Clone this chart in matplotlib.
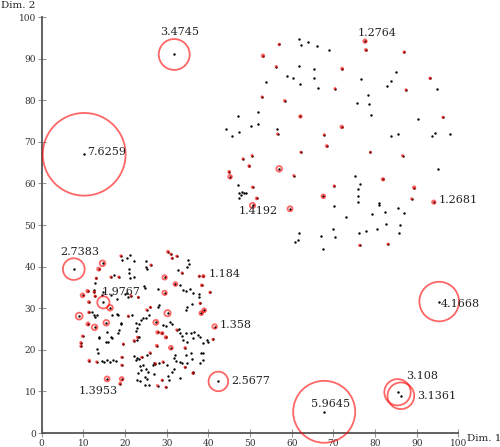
import matplotlib
matplotlib.use("Agg")
import matplotlib.pyplot as plt
from matplotlib.patches import Circle

plt.rcParams["font.family"] = "DejaVu Serif"

# points without a circle (score <= 1)
inlier_x = [
    # right cluster
    61.7, 63.9, 62.2, 66.1, 68.9, 61.8, 65.4, 58.8, 60.3, 65.3, 62.0, 66.4, 53.8, 76.6,
    85.1, 83.8, 82.9, 94.8, 78.2, 75.6, 78.6, 79.1, 90.4, 51.8, 51.9, 50.2, 56.5, 83.8,
    85.5, 93.7, 94.3, 98.1, 47.2, 44.3, 45.6, 47.4, 95.1, 75.1, 76.3, 75.9, 75.9, 75.9,
    70.1, 80.9, 80.9, 85.4, 86.9, 82.4, 79.2, 73.1, 69.9, 82.7, 86.1, 80.5, 77.8, 76.2,
    85.8, 61.8, 67.0, 70.5, 61.4, 60.8, 67.5, 47.0, 47.4, 48.1, 48.5, 49.0, 47.3, 47.8,
    # left cluster
    19.3, 20.5, 22.1, 25.0, 25.0, 25.2, 21.0, 21.0, 21.2, 22.1, 17.3, 12.8, 12.6, 32.6,
    34.8, 35.4, 35.2, 33.3, 34.0, 34.6, 35.6, 36.4, 37.7, 37.8, 28.0, 24.6, 24.7, 21.3,
    12.0, 12.6, 13.2, 12.8, 16.8, 18.0, 13.7, 15.4, 16.0, 16.8, 15.7, 13.3, 13.4, 14.4,
    15.0, 15.6, 17.0, 17.9, 16.4, 19.0, 18.3, 22.6, 23.4, 22.8, 23.8, 24.2, 22.6, 23.4,
    22.9, 22.2, 22.8, 22.6, 23.4, 25.2, 23.6, 24.4, 23.8, 25.0, 25.6, 23.2, 22.9, 23.7,
    24.9, 25.2, 27.0, 24.9, 25.8, 26.6, 27.0, 28.2, 30.1, 30.4, 31.3, 31.8, 30.6, 32.2,
    33.2, 33.6, 31.8, 32.0, 33.2, 34.6, 35.8, 36.0, 34.8, 36.2, 38.2, 38.8, 38.0, 38.6,
    37.4, 38.0, 38.8, 39.6, 40.0, 34.6, 35.8, 36.6, 33.3, 33.0, 33.6, 34.0, 36.4, 34.8,
    34.8, 36.0, 34.6, 28.2, 27.8, 29.2, 29.8, 30.8, 31.3, 25.7, 25.0, 21.6, 14.4, 14.8,
    16.6, 18.0, 20.1, 20.4, 20.7, 18.3, 19.0, 18.6, 16.6, 13.8,
]
inlier_y = [
    94.7, 94.1, 93.3, 93.1, 92.1, 88.3, 87.5, 85.9, 85.3, 85.3, 84.0, 83.0, 84.4, 85.0,
    86.9, 84.6, 83.3, 82.6, 81.3, 79.3, 79.0, 76.4, 75.6, 77.1, 74.2, 73.7, 73.2, 71.5,
    71.9, 71.5, 72.1, 71.9, 76.1, 73.0, 71.5, 72.4, 63.5, 61.9, 59.9, 58.7, 57.0, 55.5,
    54.6, 55.4, 54.9, 54.2, 53.0, 53.2, 52.7, 51.9, 49.0, 50.2, 50.1, 49.0, 48.6, 48.1,
    48.1, 48.1, 47.4, 47.1, 46.4, 46.0, 44.2, 59.6, 57.8, 58.0, 57.6, 57.8, 56.4, 57.2,
    41.6, 42.0, 41.3, 41.3, 40.0, 39.5, 39.4, 38.5, 37.3, 37.6, 38.1, 36.1, 34.4, 39.2,
    40.0, 40.6, 41.6, 35.7, 34.4, 34.1, 34.6, 33.7, 33.5, 32.7, 34.5, 35.4, 34.8, 42.7,
    29.0, 28.4, 28.4, 27.8, 28.4, 28.5, 22.8, 21.8, 21.9, 22.9, 24.3, 20.1, 19.2, 17.4,
    17.1, 17.5, 17.5, 17.3, 17.0, 26.2, 24.1, 26.5, 26.1, 25.2, 27.2, 27.6, 24.5, 23.1,
    22.4, 18.5, 18.0, 17.5, 17.9, 18.8, 16.1, 16.3, 15.1, 15.5, 14.7, 14.5, 12.7, 12.5,
    13.5, 13.0, 14.2, 11.5, 11.6, 16.3, 16.9, 16.8, 16.3, 13.7, 14.7, 15.3, 12.7, 17.3,
    17.1, 16.8, 18.0, 18.8, 13.3, 18.8, 19.2, 17.7, 16.8, 14.7, 19.2, 19.2, 16.8, 17.5,
    23.6, 23.2, 21.6, 22.4, 21.8, 24.0, 24.1, 24.4, 24.0, 24.9, 23.3, 22.4, 22.8, 21.9,
    30.2, 31.0, 29.6, 30.8, 30.2, 26.0, 25.7, 26.7, 26.3, 28.4, 27.6, 28.4, 33.2, 33.8,
    33.2, 32.3, 33.3, 33.7, 32.8, 28.4, 26.4, 24.7, 23.1, 23.0,
]

# points with an outlier score above 1 (drawn with a circle)
outlier_x = [
    # right cluster
    77.6, 77.8, 57.0, 53.1, 87.0, 56.3, 72.1, 70.4, 93.2, 87.4, 52.9, 58.3, 62.1, 72.0,
    96.3, 56.6, 67.8, 68.4, 62.2, 78.9, 86.6, 50.5, 48.3, 49.8, 45.0, 45.2, 57.0, 60.5,
    50.6, 51.6, 50.6, 59.6, 70.2, 67.6, 81.9, 89.4, 88.8, 94.1, 76.3, 83.1,
    # left cluster
    14.6, 13.7, 19.0, 26.2, 16.6, 18.5, 13.1, 11.0, 9.8, 12.6, 12.8, 30.3, 31.0, 31.3,
    32.4, 29.5, 32.1, 29.5, 33.7, 37.8, 38.8, 38.4, 40.4, 21.4, 23.2, 14.8, 11.3, 16.4,
    9.0, 11.3, 15.5, 12.7, 11.1, 9.8, 9.4, 9.4, 11.4, 13.2, 15.7, 19.2, 18.8, 19.2,
    19.2, 19.6, 20.8, 22.2, 23.0, 25.2, 26.1, 27.4, 30.2, 27.8, 28.9, 29.8, 27.6, 31.0,
    32.4, 34.4, 38.0, 38.3, 39.0, 41.5, 41.1, 36.3, 34.4, 29.1, 27.3, 26.0, 24.0, 28.9,
    27.8, 29.8,
    # isolated points
    31.8, 10.2, 7.7, 42.4, 95.4, 67.8, 85.4, 86.2,
]
outlier_y = [
    94.2, 92.1, 93.4, 90.7, 91.6, 88.1, 87.6, 82.8, 85.3, 82.5, 80.8, 79.9, 76.1, 73.6,
    75.9, 71.9, 71.7, 69.0, 67.5, 67.5, 66.7, 66.7, 65.9, 64.2, 62.8, 61.6, 63.5, 61.9,
    59.1, 56.4, 54.7, 53.9, 59.4, 56.9, 61.0, 59.0, 56.3, 55.5, 45.1, 45.4,
    40.8, 39.4, 42.6, 40.4, 37.5, 37.5, 37.2, 34.1, 33.1, 33.9, 32.9, 43.6, 43.0, 42.0,
    42.5, 37.4, 35.8, 33.7, 38.5, 37.7, 37.7, 35.5, 33.8, 33.0, 32.6, 31.4, 31.5, 30.1,
    28.1, 29.0, 26.5, 25.4, 26.2, 23.3, 21.7, 20.9, 17.4, 17.1, 13.0, 13.0, 11.9, 18.2,
    16.3, 21.4, 28.1, 22.2, 23.0, 29.6, 30.2, 26.6, 28.8, 24.2, 24.0, 23.0, 21.0, 20.5,
    24.8, 20.5, 31.2, 28.8, 29.5, 25.6, 22.5, 14.4, 15.8, 17.1, 16.7, 19.3, 18.2, 12.7,
    11.4, 11.0,
    91.0, 67.0, 39.4, 12.4, 31.6, 5.1, 9.8, 8.95,
]
outlier_score = [
    1.2764, 1.15, 1.12, 1.2, 1.12, 1.1, 1.15, 1.1, 1.12, 1.1, 1.1, 1.12, 1.2, 1.2,
    1.1, 1.1, 1.1, 1.15, 1.1, 1.1, 1.1, 1.1, 1.1, 1.15, 1.15, 1.3, 1.45, 1.1,
    1.12, 1.15, 1.4192, 1.4, 1.1, 1.3, 1.2, 1.2, 1.1, 1.2681, 1.1, 1.1,
    1.45, 1.25, 1.1, 1.1, 1.1, 1.1, 1.12, 1.2, 1.3, 1.12, 1.12, 1.15, 1.1, 1.1,
    1.1, 1.35, 1.3, 1.35, 1.1, 1.1, 1.184, 1.15, 1.12, 1.1, 1.1, 1.9767, 1.15, 1.45,
    1.55, 1.12, 1.45, 1.45, 1.25, 1.12, 1.12, 1.12, 1.15, 1.1, 1.3953, 1.3, 1.15, 1.1,
    1.1, 1.1, 1.1, 1.12, 1.12, 1.1, 1.1, 1.4, 1.5, 1.2, 1.2, 1.2, 1.15, 1.3,
    1.1, 1.12, 1.1, 1.3, 1.3, 1.358, 1.1, 1.12, 1.1, 1.1, 1.1, 1.1, 1.1, 1.1,
    1.1, 1.1,
    3.4745, 7.6259, 2.7383, 2.5677, 4.1668, 5.9645, 3.108, 3.1361,
]

labeled_scores = [3.4745, 1.2764, 7.6259, 1.4192, 1.2681, 2.7383, 1.9767, 1.184,
                  1.358, 4.1668, 2.5677, 1.3953, 5.9645, 3.108, 3.1361]

# label placement: score -> (ha, dx px, dy px)
label_place = {
    3.4745: ("center", 5, 22), 1.2764: ("center", 12, 8), 7.6259: ("left", 3, 2),
    1.4192: ("center", 6, -6), 1.2681: ("left", 5, 2), 2.7383: ("center", 6, 17),
    1.9767: ("center", 18, 10), 1.184: ("left", 5, 2), 1.358: ("left", 5, 2),
    4.1668: ("left", 2, -2), 2.5677: ("left", 13, 0), 1.3953: ("center", -9, -12),
    5.9645: ("center", 6, 8), 3.108: ("center", 25, 16), 3.1361: ("left", 16, 0),
}


def main():
    fig = plt.figure(figsize=(5, 4.47), dpi=100)
    ax = fig.add_axes([0.0834, 0.0313, 0.8333, 0.9306])
    ax.set_xlim(0, 100)
    ax.set_ylim(0, 100)

    ax.scatter(inlier_x, inlier_y, s=3, c="black", linewidths=0, zorder=2)
    ax.scatter(outlier_x, outlier_y, s=3, c="black", linewidths=0, zorder=2)

    for x, y, s in zip(outlier_x, outlier_y, outlier_score):
        r = 1.5 * (s - 1)
        ax.add_patch(Circle((x, y), r, fill=False, edgecolor="red", alpha=0.6,
                            linewidth=1.3, clip_on=False, zorder=3))
        if s in labeled_scores:
            ha, dx, dy = label_place[s]
            ax.annotate(f"{s:g}", (x, y), xytext=(dx * 0.72, dy * 0.72),
                        textcoords="offset points", ha=ha, va="center",
                        fontsize=8, color="#222222", zorder=4)

    for side in ["top", "right"]:
        ax.spines[side].set_visible(False)
    for side in ["left", "bottom"]:
        ax.spines[side].set_color("#555555")
        ax.spines[side].set_linewidth(1.3)
    ax.set_xticks(range(0, 101, 10))
    ax.set_yticks(range(0, 101, 10))
    ax.tick_params(direction="inout", length=6, width=0.8, color="#999999",
                   labelsize=6.5, labelcolor="#333333", pad=1)

    ax.annotate("Dim. 1", (1, 0), xycoords="axes fraction", xytext=(6.2, -3.6),
                textcoords="offset points", ha="left", va="center",
                fontsize=7.5, color="#222222")
    fig.text(0.002, 1 - 6 / 447, "Dim. 2", ha="left", va="center",
             fontsize=7.5, color="#222222")

    fig.savefig("out.png", dpi=100)
    plt.close(fig)


if __name__ == "__main__":
    main()
